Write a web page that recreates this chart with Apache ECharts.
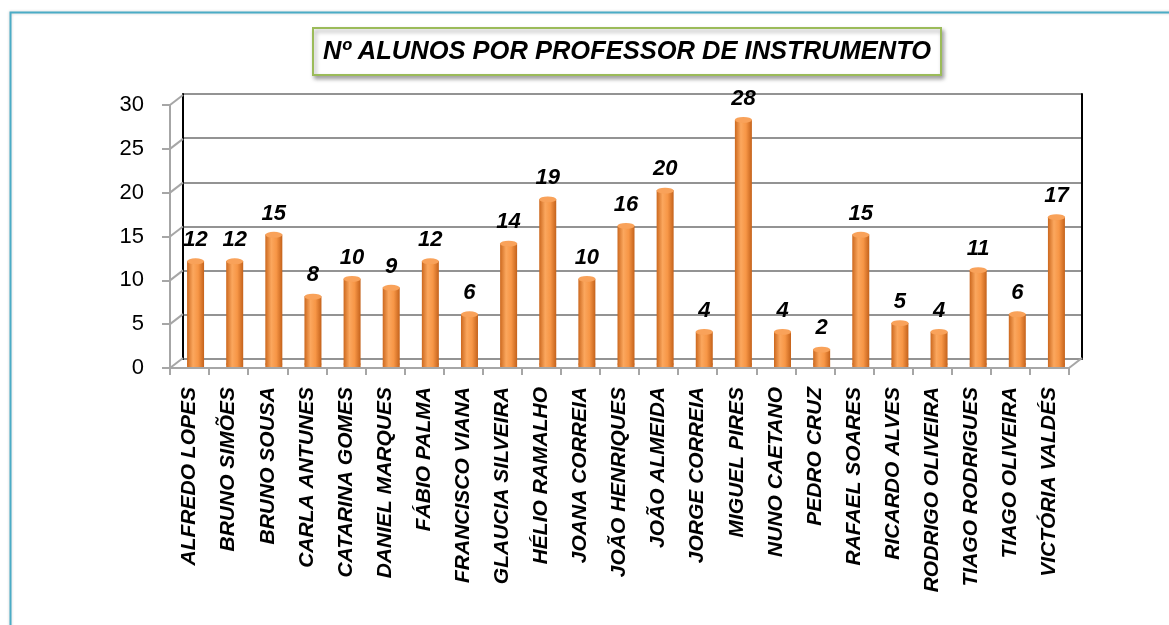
<!DOCTYPE html>
<html>
<head>
<meta charset="utf-8">
<script src="https://cdn.jsdelivr.net/npm/echarts@6/dist/echarts.min.js"></script>
<style>
  html, body { margin: 0; padding: 0; background: #fff; }
  #chart { width: 1169px; height: 625px; }
</style>
</head>
<body>
<div id="chart"></div>
<script>
const professores = [
    'ALFREDO LOPES', 'BRUNO SIMÕES', 'BRUNO SOUSA', 'CARLA ANTUNES', 'CATARINA GOMES',
    'DANIEL MARQUES', 'FÁBIO PALMA', 'FRANCISCO VIANA', 'GLAUCIA SILVEIRA', 'HÉLIO RAMALHO',
    'JOANA CORREIA', 'JOÃO HENRIQUES', 'JOÃO ALMEIDA', 'JORGE CORREIA', 'MIGUEL PIRES',
    'NUNO CAETANO', 'PEDRO CRUZ', 'RAFAEL SOARES', 'RICARDO ALVES', 'RODRIGO OLIVEIRA',
    'TIAGO RODRIGUES', 'TIAGO OLIVEIRA', 'VICTÓRIA VALDÉS'
]
const alunos = [12, 12, 15, 8, 10, 9, 12, 6, 14, 19, 10, 16, 20, 4, 28, 4, 2, 15, 5, 4, 11, 6, 17]
const yTicks = [0, 5, 10, 15, 20, 25, 30]

const FONT = '"Liberation Sans", Arial, sans-serif'
const N = professores.length
// decalage de profondeur (parede do fundo)
const DX = 13
const DY = -10

const myChart = echarts.init(document.getElementById('chart'), null, { renderer: 'canvas' })

const barColor = new echarts.graphic.LinearGradient(0, 0, 1, 0, [
    { offset: 0, color: '#CC681E' },
    { offset: 0.35, color: '#FBA75E' },
    { offset: 0.65, color: '#F79646' },
    { offset: 1, color: '#C4621B' }
])

myChart.setOption({
    animation: false,
    title: {
        text: 'Nº ALUNOS POR PROFESSOR DE INSTRUMENTO',
        left: 313,
        top: 28,
        padding: [8, 10],
        backgroundColor: '#fff',
        borderColor: '#9BBB59',
        borderWidth: 2,
        shadowColor: 'rgba(0,0,0,0.35)',
        shadowBlur: 4,
        shadowOffsetX: 2,
        shadowOffsetY: 3,
        textStyle: {
            fontFamily: FONT,
            fontSize: 25.5,
            fontWeight: 'bold',
            fontStyle: 'italic',
            color: '#000',
            width: 603,
            height: 31,
            lineHeight: 31,
            align: 'center'
        }
    },
    graphic: [
        {
            type: 'rect',
            left: 8,
            top: 10,
            shape: { width: 1300, height: 800 },
            style: { fill: 'none', stroke: '#4BACC6', lineWidth: 2, shadowColor: 'rgba(0,0,0,0.2)', shadowBlur: 3 },
            z: -1
        }
    ],
    grid: [
        // parede do fundo
        { left: 183, top: 94, width: 899, height: 265 },
        // frente (eixos)
        { left: 170, top: 105, width: 899, height: 263 },
        // barras
        { left: 176, top: 102, width: 900, height: 265 }
    ],
    xAxis: [
        { gridIndex: 0, type: 'category', data: professores, show: false },
        {
            gridIndex: 1,
            type: 'category',
            data: professores,
            axisLine: { lineStyle: { color: '#a6a6a6', width: 2 } },
            axisTick: { show: true, length: 7, lineStyle: { color: '#a6a6a6', width: 2 } },
            axisLabel: {
                interval: 0,
                rotate: 90,
                margin: 19,
                color: '#000',
                fontFamily: FONT,
                fontSize: 21,
                fontWeight: 'bold',
                fontStyle: 'italic'
            }
        },
        { gridIndex: 1, type: 'value', min: 0, max: N, show: false },
        { gridIndex: 2, type: 'category', data: professores, show: false }
    ],
    yAxis: [
        {
            gridIndex: 0, type: 'value', min: 0, max: 30, interval: 5,
            axisLine: { show: true, lineStyle: { color: '#000', width: 2 } },
            axisTick: { show: false },
            axisLabel: { show: false },
            splitLine: { lineStyle: { color: '#939393', width: 2 } }
        },
        {
            gridIndex: 0, type: 'value', min: 0, max: 30, interval: 5, position: 'right',
            axisLine: { show: true, lineStyle: { color: '#000', width: 2 } },
            axisTick: { show: false },
            axisLabel: { show: false },
            splitLine: { show: false }
        },
        {
            gridIndex: 1, type: 'value', min: 0, max: 30, interval: 5,
            axisLine: { show: true, lineStyle: { color: '#a6a6a6', width: 2 } },
            axisTick: { show: true, length: 8, lineStyle: { color: '#a6a6a6', width: 2 } },
            axisLabel: { margin: 26, color: '#000', fontFamily: FONT, fontSize: 22 },
            splitLine: { show: false }
        },
        { gridIndex: 2, type: 'value', min: 0, max: 30, show: false }
    ],
    series: [
        {
            // linhas diagonais da parede lateral e do chao
            type: 'custom',
            xAxisIndex: 2,
            yAxisIndex: 2,
            silent: true,
            data: yTicks.map((v) => [0, v]).concat([[N, 0]]),
            renderItem: (params, api) => {
                const p = api.coord([api.value(0), api.value(1)])
                return {
                    type: 'line',
                    shape: { x1: p[0], y1: p[1], x2: p[0] + DX, y2: p[1] + DY },
                    style: { stroke: '#a6a6a6', lineWidth: 2 }
                }
            },
            z: 1
        },
        {
            type: 'bar',
            xAxisIndex: 3,
            yAxisIndex: 3,
            data: alunos,
            barWidth: 17,
            itemStyle: { color: barColor },
            z: 2
        },
        {
            // base do cilindro
            type: 'pictorialBar',
            xAxisIndex: 3,
            yAxisIndex: 3,
            data: alunos,
            symbol: 'circle',
            symbolSize: [17, 6],
            symbolOffset: [0, 0],
            itemStyle: { color: barColor },
            z: 3
        },
        {
            // topo do cilindro
            type: 'pictorialBar',
            xAxisIndex: 3,
            yAxisIndex: 3,
            data: alunos,
            symbol: 'circle',
            symbolSize: [17, 6],
            symbolPosition: 'end',
            symbolOffset: [0, '-50%'],
            itemStyle: { color: '#F9A25A', borderColor: '#D9782C', borderWidth: 1 },
            label: {
                show: true,
                position: 'top',
                distance: 7,
                color: '#000',
                fontFamily: FONT,
                fontSize: 22,
                fontWeight: 'bold',
                fontStyle: 'italic'
            },
            z: 4
        }
    ]
})
</script>
</body>
</html>
